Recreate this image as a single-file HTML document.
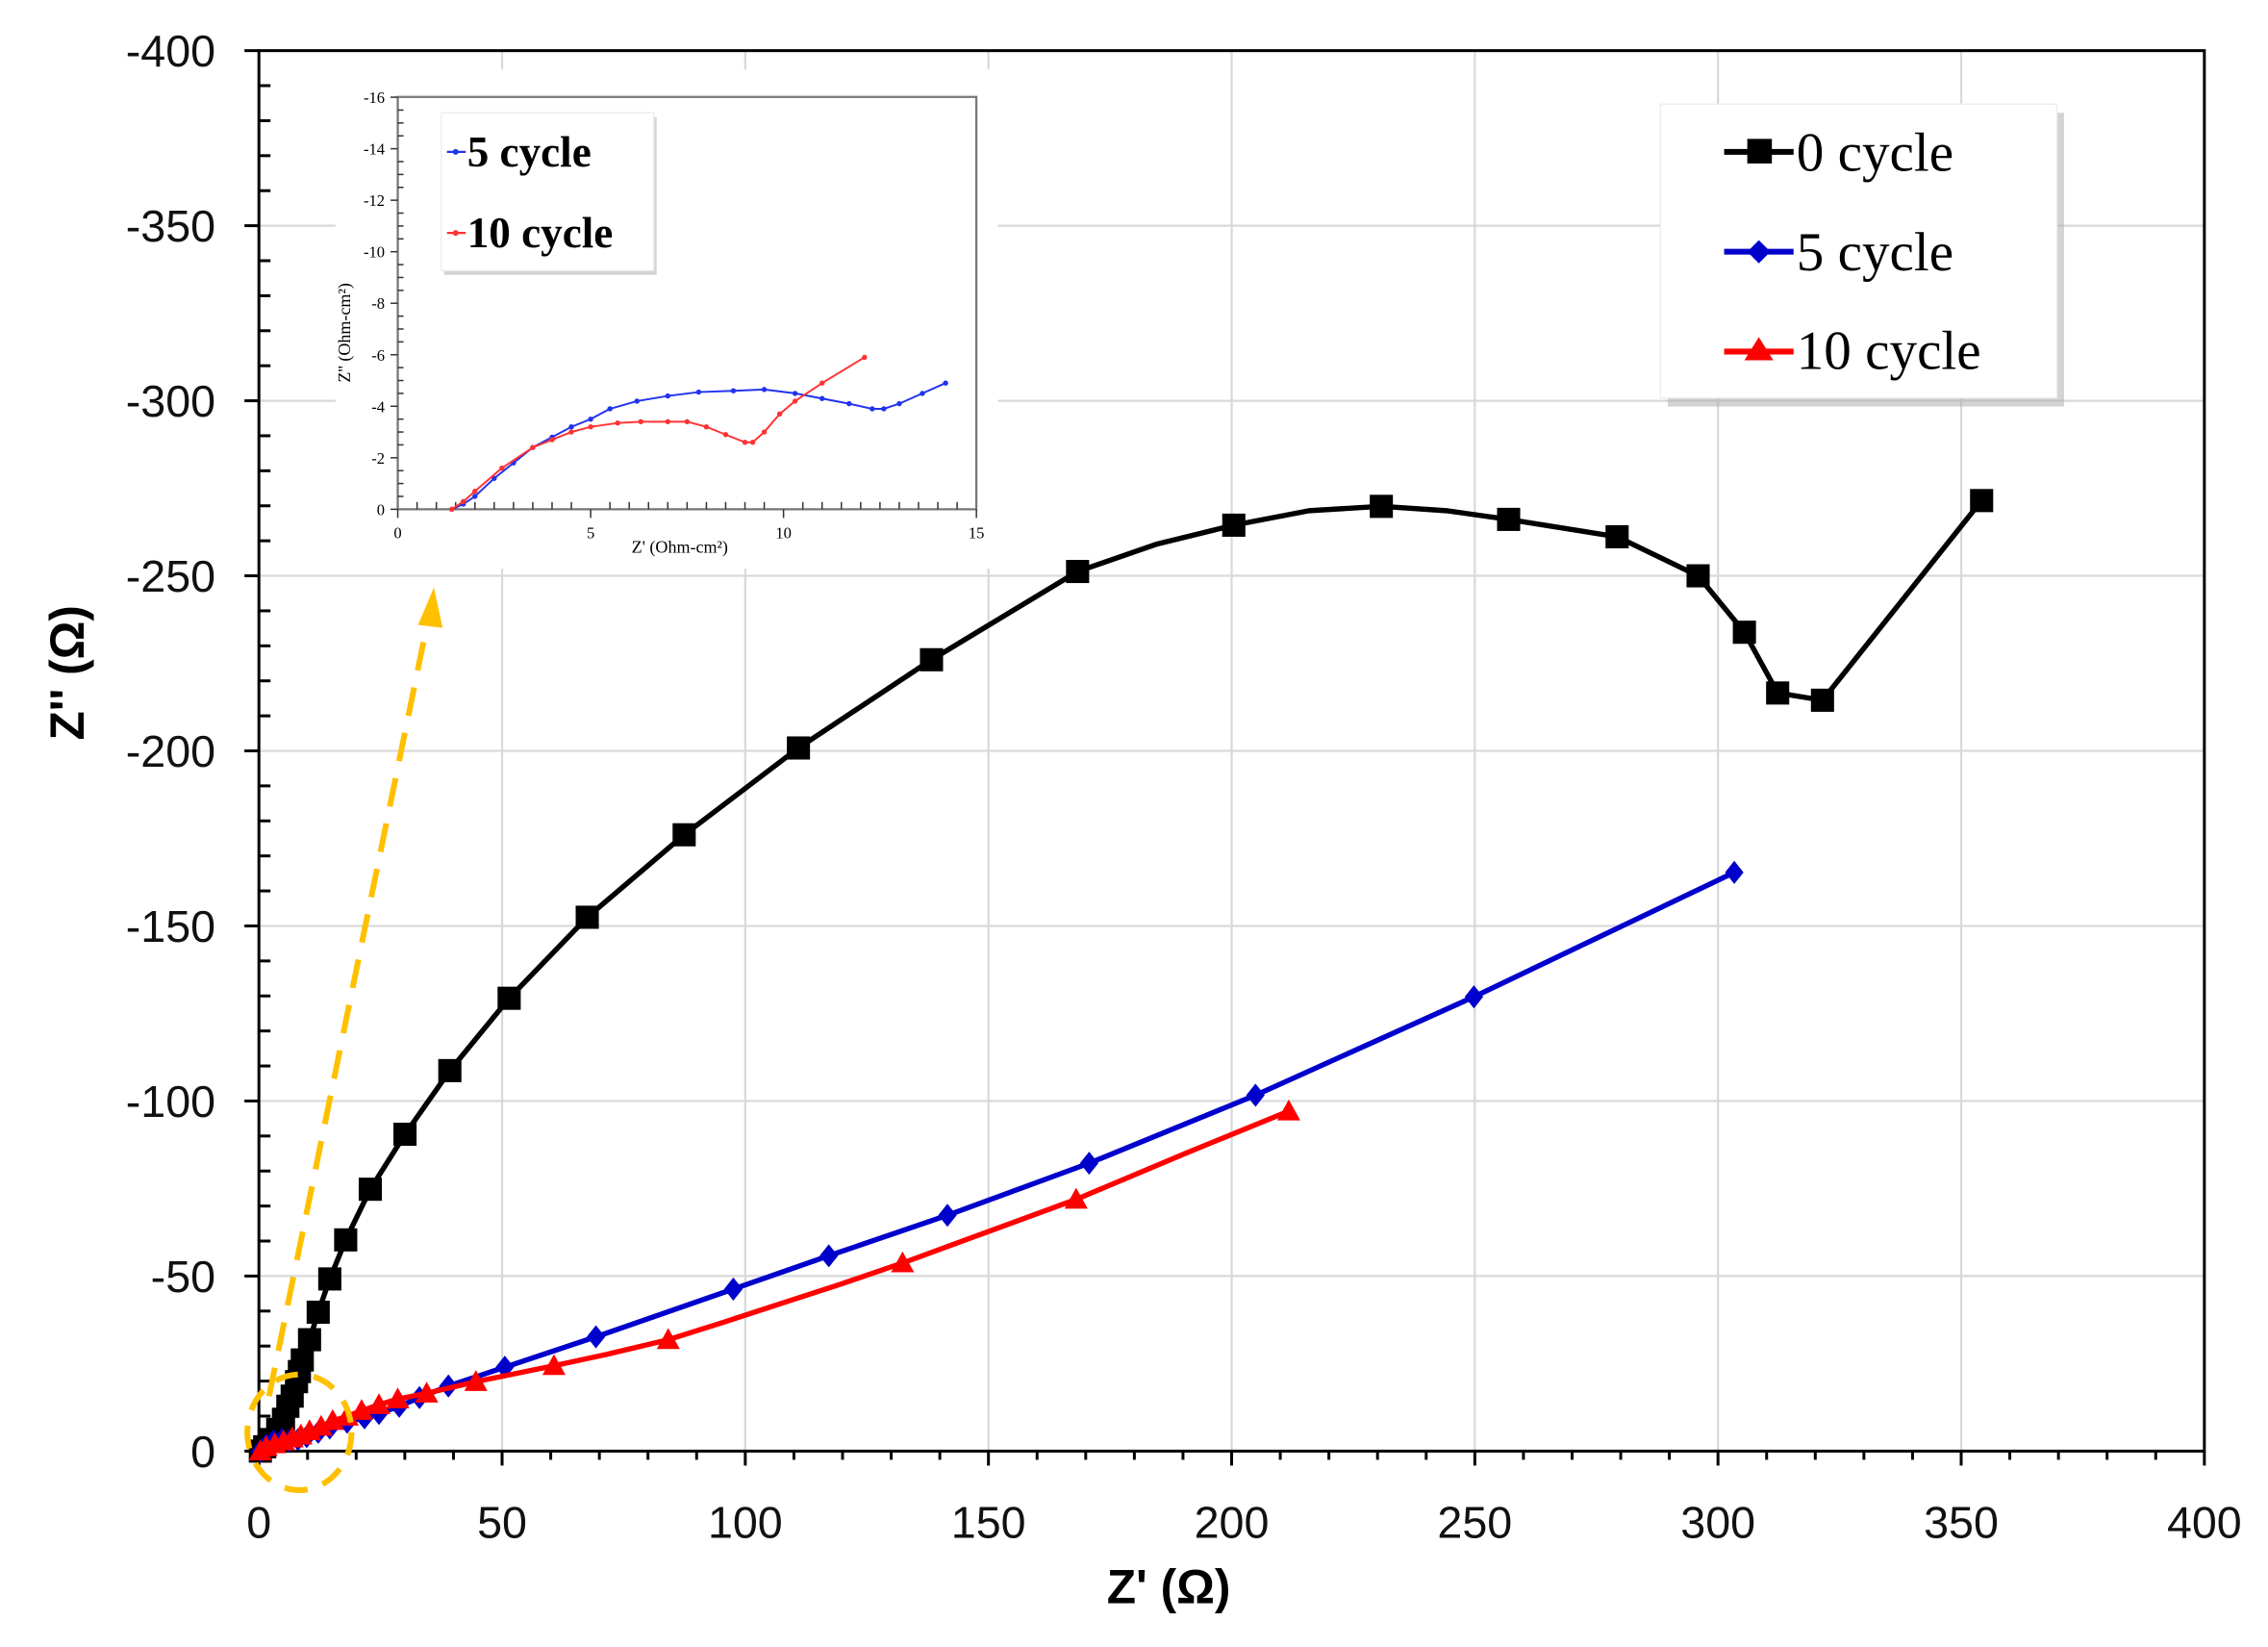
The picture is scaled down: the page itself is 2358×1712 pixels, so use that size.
<!DOCTYPE html>
<html><head><meta charset="utf-8"><style>
html,body{margin:0;padding:0;background:#fff}
svg{display:block}
</style></head><body>
<svg id="s" xmlns="http://www.w3.org/2000/svg" width="2358" height="1712" viewBox="0 0 1568 1138.4" preserveAspectRatio="none" font-family="'Liberation Sans', sans-serif">
<rect width="1568" height="1139" fill="#fff"/>
<g id="grid" stroke="#d9d9d9" stroke-width="1.5"></g>
<g id="axes" stroke="#000" stroke-width="2"></g>
<g id="lbl" font-size="31" fill="#111"></g>
<text x="58" y="465" font-size="33" font-weight="bold" text-anchor="middle" transform="rotate(-90 58 465)">Z'' (Ω)</text>
<text x="808" y="1108" font-size="33" font-weight="bold" text-anchor="middle">Z' (Ω)</text>
<g id="series"></g>
<ellipse cx="207" cy="990" rx="36" ry="40" fill="none" stroke="#FFC000" stroke-width="4" stroke-dasharray="16,11"/>
<line x1="186" y1="965" x2="296" y2="428" stroke="#FFC000" stroke-width="4" stroke-dasharray="20,12"/>
<polygon points="300,406 289,432 306,434" fill="#FFC000"/>
<rect x="232" y="48" width="458" height="345" fill="#fff"/>
<g id="inset"></g>
<rect x="1153" y="78" width="274" height="203" fill="#aaa" opacity="0.5"/>
<rect x="1148" y="72" width="274" height="203" fill="#fff" stroke="#eee"/>
<g font-family="'Liberation Serif', serif" font-size="38" fill="#000">
<line x1="1192" y1="105" x2="1240" y2="105" stroke="#000" stroke-width="4"/><rect x="1208" y="96" width="17" height="17"/>
<text x="1242" y="118">0 cycle</text>
<line x1="1192" y1="174" x2="1240" y2="174" stroke="#0000CC" stroke-width="4"/><polygon points="1216,166 1224,174 1216,182 1208,174" fill="#0000CC"/>
<text x="1242" y="187">5 cycle</text>
<line x1="1192" y1="243" x2="1240" y2="243" stroke="#f00" stroke-width="4"/><polygon points="1216,233 1226,249 1206,249" fill="#f00"/>
<text x="1242" y="255">10 cycle</text>
</g>
</svg>
<script>
const NS="http://www.w3.org/2000/svg";
function el(p,t,a,txt){const e=document.createElementNS(NS,t);for(const k in a)e.setAttribute(k,a[k]);if(txt!==undefined)e.textContent=txt;p.appendChild(e);return e;}
const X=v=>179+v*3.3625, Y=v=>1003-v*2.42;
const grid=document.getElementById('grid'),axes=document.getElementById('axes'),lbl=document.getElementById('lbl');
for(let v=50;v<=400;v+=50){el(grid,'line',{x1:X(v),y1:Y(0),x2:X(v),y2:Y(400)});el(grid,'line',{x1:X(0),y1:Y(v),x2:X(400),y2:Y(v)});}
el(axes,'rect',{x:X(0),y:Y(400),width:X(400)-X(0),height:Y(0)-Y(400),fill:'none'});
for(let v=0;v<=400;v+=10){const maj=v%50==0;
 el(axes,'line',{x1:X(v),y1:Y(0),x2:X(v),y2:Y(0)+(maj?10:6)});
 el(axes,'line',{x1:X(0)-(maj?10:0),y1:Y(v),x2:X(0)+(maj?0:8),y2:Y(v)});
 if(maj){el(lbl,'text',{x:X(v),y:Y(0)+60,'text-anchor':'middle'},String(v));el(lbl,'text',{x:X(0)-30,y:Y(v)+11,'text-anchor':'end'},v==0?'0':'-'+v);}
}
const S=document.getElementById('series');
function series(pts,col,mk,sz,w,mpts){
 el(S,'polyline',{points:pts.map(p=>p.join(',')).join(' '),fill:'none',stroke:col,'stroke-width':w,'stroke-linejoin':'round'});
 (mpts||pts).forEach(([x,y])=>{
  if(mk=='s')el(S,'rect',{x:x-sz,y:y-sz,width:2*sz,height:2*sz,fill:col});
  else if(mk=='d')el(S,'polygon',{points:`${x},${y-sz} ${x+sz*0.8},${y} ${x},${y+sz} ${x-sz*0.8},${y}`,fill:col});
  else el(S,'polygon',{points:`${x},${y-sz} ${x+sz},${y+sz*0.8} ${x-sz},${y+sz*0.8}`,fill:col});
 });
}
series([[180,1003],[183,1000],[187,995],[192,988],[196,981],[199,972],[202,965],[205,955],[207,948],[209,940],[214,926],[220,907],[228,884],[239,857],[256,822],[280,784],[311,740],[352,690],[406,634],[473,577],[552,517],[644,456],[745,395],[800,376],[853,363],[905,353],[955,350],[1000,353],[1043,359],[1118,371],[1174,398],[1206,437],[1229,479],[1260,484],[1370,346]],'#000','s',8,3.6,
 [[180,1003],[183,1000],[187,995],[192,988],[196,981],[199,972],[202,965],[205,955],[207,948],[209,940],[214,926],[220,907],[228,884],[239,857],[256,822],[280,784],[311,740],[352,690],[406,634],[473,577],[552,517],[644,456],[745,395],[853,363],[955,350],[1043,359],[1118,371],[1174,398],[1206,437],[1229,479],[1260,484],[1370,346]]);
series([[180,1003],[184,999],[189,996],[195,995],[200,996],[206,995],[212,993],[220,990],[228,987],[240,983],[252,980],[262,977],[276,972],[290,966],[310,958],[349,945],[412,924],[507,891],[573,868],[655,840],[753,804],[868,757],[1019,689],[1199,603]],'#0000CC','d',8,3.6);
series([[180,1003],[184,1000],[190,998],[196,996],[202,994],[208,992],[214,989],[222,986],[230,982],[240,979],[250,975],[262,971],[275,967],[295,963],[329,955],[383,944],[420,936],[462,926],[500,914],[540,901],[580,888],[624,873],[684,851],[744,829],[820,797],[891,768]],'#f00','t',8,3.6,
 [[180,1003],[184,1000],[190,998],[196,996],[202,994],[208,992],[214,989],[222,986],[230,982],[240,979],[250,975],[262,971],[275,967],[295,963],[329,955],[383,944],[462,926],[624,873],[744,829],[891,768]]);
const I=document.getElementById('inset');
const IX=v=>275+v*26.67, IY=v=>352-v*17.8;
el(I,'rect',{x:275,y:67,width:400,height:285,fill:'none',stroke:'#777','stroke-width':1.5});
for(let v=0;v<=15;v+=0.5){el(I,'line',{x1:IX(v),y1:352,x2:IX(v),y2:v%5==0?358:347,stroke:'#333','stroke-width':1});}
for(let v=0;v<=16;v+=0.5){el(I,'line',{x1:275,y1:IY(v),x2:v%2==0?270:279,y2:IY(v),stroke:'#333','stroke-width':1});}
for(let v=0;v<=15;v+=5)el(I,'text',{x:IX(v),y:372,'font-size':11,'text-anchor':'middle','font-family':"'Liberation Serif',serif"},String(v));
for(let v=0;v<=16;v+=2)el(I,'text',{x:266,y:IY(v)+4,'font-size':11,'text-anchor':'end','font-family':"'Liberation Serif',serif"},v?'-'+v:'0');
el(I,'text',{x:470,y:382,'font-size':12,'text-anchor':'middle','font-family':"'Liberation Serif',serif"},"Z' (Ohm-cm²)");
el(I,'text',{x:242,y:230,'font-size':12,'text-anchor':'middle','font-family':"'Liberation Serif',serif",transform:'rotate(-90 242 230)'},"Z'' (Ohm-cm²)");
function iser(d,col){const pts=d.map(([a,b])=>[IX(a),IY(b)]);
 el(I,'polyline',{points:pts.map(p=>p.join(',')).join(' '),fill:'none',stroke:col,'stroke-width':1.3});
 pts.forEach(([x,y])=>el(I,'circle',{cx:x,cy:y,r:1.8,fill:col}));}
iser([[1.4,0],[1.7,0.2],[2,0.5],[2.5,1.2],[3,1.8],[3.5,2.4],[4,2.8],[4.5,3.2],[5,3.5],[5.5,3.9],[6.2,4.2],[7,4.4],[7.8,4.55],[8.7,4.6],[9.5,4.65],[10.3,4.5],[11,4.3],[11.7,4.1],[12.3,3.9],[12.6,3.9],[13,4.1],[13.6,4.5],[14.2,4.9]],'#2233ee');
iser([[1.4,0],[1.7,0.3],[2,0.7],[2.7,1.6],[3.5,2.4],[4,2.7],[4.5,3.0],[5,3.2],[5.7,3.35],[6.3,3.4],[7,3.4],[7.5,3.4],[8,3.2],[8.5,2.9],[9,2.6],[9.2,2.6],[9.5,3.0],[9.9,3.7],[10.3,4.2],[11,4.9],[12.1,5.9]],'#f33');
el(I,'rect',{x:307,y:81,width:147,height:109,fill:'#aaa',opacity:0.5});
el(I,'rect',{x:305,y:78,width:147,height:109,fill:'#fff',stroke:'#eee'});
el(I,'line',{x1:309,y1:105,x2:322,y2:105,stroke:'#2233ee','stroke-width':1.5});
el(I,'circle',{cx:315,cy:105,r:2,fill:'#2233ee'});
el(I,'line',{x1:309,y1:161,x2:322,y2:161,stroke:'#f33','stroke-width':1.5});
el(I,'circle',{cx:315,cy:161,r:2,fill:'#f33'});
el(I,'text',{x:323,y:115,'font-size':30,'font-weight':'bold','font-family':"'Liberation Serif',serif"},'5 cycle');
el(I,'text',{x:323,y:171,'font-size':30,'font-weight':'bold','font-family':"'Liberation Serif',serif"},'10 cycle');
</script>
</body></html>
